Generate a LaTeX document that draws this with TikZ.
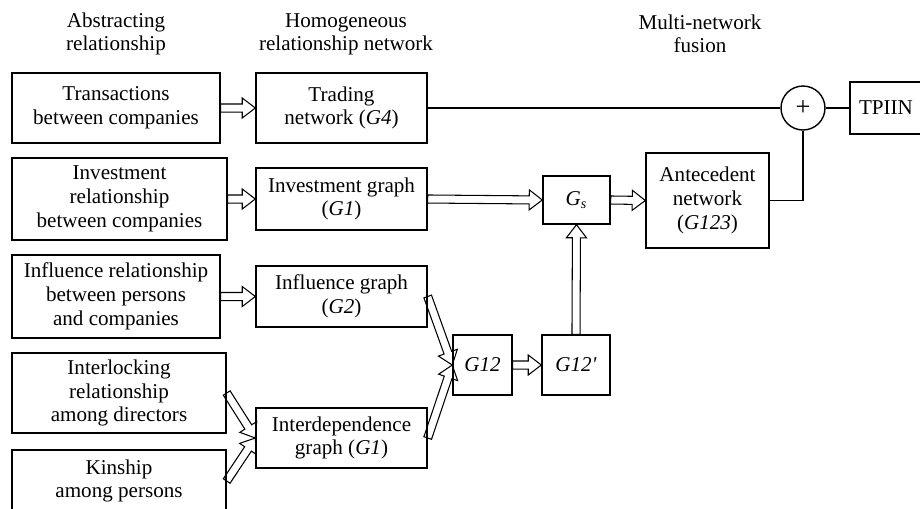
\documentclass[tikz,border=0pt]{standalone}
\usepackage{fontspec}
\setmainfont{Liberation Serif}
\usetikzlibrary{calc,shapes.arrows}
\tikzstyle{box} = [draw,line width=0.8pt,align=center,inner sep=0pt,font=\fontsize{12}{13.5}\selectfont]
\tikzstyle{title} = [align=center,inner sep=0pt,font=\fontsize{12}{13}\selectfont]
\tikzstyle{harrow} = [single arrow,draw,line width=0.6pt,inner sep=0.7mm,outer sep=0pt,single arrow head extend=1.2mm,minimum width=3.5mm,single arrow tip angle=75,anchor=tail]
\tikzstyle{hollow} = [to path={let \p1=(\tikztostart), \p2=(\tikztotarget), \n1={atan2(\y2-\y1,\x2-\x1)}, \n2={veclen(\x2-\x1,\y2-\y1)} in node[harrow,rotate=\n1,minimum height=\n2] at (\p1) {} (\tikztotarget)}]

\begin{document}
\begin{tikzpicture}[x=0.2mm,y=-0.2mm]
          \useasboundingbox (0,0) rectangle (920,508);
          \node[title] at (116,34) (t1) {Abstracting\\relationship};
          \node[title] at (346,34) (t2) {Homogeneous\\relationship network};
          \node[title] at (700,34) (t3) {Multi-network\\fusion};

          \node[box, minimum width=41.6mm, minimum height=14mm] at (116,108) (A1) {Transactions\\between companies};
          \node[box, minimum width=43mm, minimum height=16.4mm] at (119.5,199) (A2) {Investment\\relationship\\between companies};
          \node[box, minimum width=41.6mm, minimum height=16.6mm] at (116,296.5) (A3) {Influence relationship\\between persons\\and companies};
          \node[box, minimum width=42.8mm, minimum height=16mm] at (119,393) (A4) {Interlocking\\relationship\\among directors};
          \node[box, minimum width=42.8mm, minimum height=12.4mm] at (119,481) (A5) {Kinship\\among persons};

          \node[box, minimum width=34.2mm, minimum height=14mm] at (341.5,108) (B1) {Trading\\network (\textit{G4})};
          \node[box, minimum width=34.2mm, minimum height=12.4mm] at (341.5,199) (B2) {Investment graph\\(\textit{G1})};
          \node[box, minimum width=34.2mm, minimum height=12.2mm] at (341.5,296.5) (B3) {Influence graph\\(\textit{G2})};
          \node[box, minimum width=34.2mm, minimum height=12mm] at (341.5,438) (B4) {Interdependence\\graph (\textit{G1})};

          \node[box, minimum width=11.8mm, minimum height=12mm] at (482.5,365) (G12) {\textit{G12}};
          \node[box, minimum width=13.6mm, minimum height=12mm] at (576,365) (G12p) {\textit{G12\textquotesingle}};
          \node[box, minimum width=13.4mm, minimum height=9.6mm] at (576.5,200) (Gs) {\textit{G\textsubscript{s}}};
          \node[box, minimum width=24.6mm, minimum height=19mm] at (707.5,200.5) (ant) {Antecedent\\network\\(\textit{G123})};
          \node[box, circle, minimum size=8.8mm, font=\fontsize{15}{15}\selectfont] at (803,108) (plus) {+};
          \node[box, minimum width=14.4mm, minimum height=10.4mm] at (886,108) (tpiin) {TPIIN};

          \path (A1.east) to[hollow] (B1.west);
          \path (A2.east) to[hollow] (B2.west);
          \path (A3.east) to[hollow] (B3.west);
          \path (A4.east) to[hollow] (B4.west);
          \path (A5.east) to[hollow] (B4.west);
          \path (B3.east) to[hollow] (G12.west);
          \path (B4.east) to[hollow] (G12.west);
          \path (G12.east) to[hollow] (G12p.west);
          \path (G12p.north) to[hollow] (Gs.south);
          \path (B2.east) to[hollow] (Gs.west);
          \path (Gs.east) to[hollow] (ant.west);

          \draw[line width=0.8pt] (B1.east) -- (plus.west);
          \draw[line width=0.8pt] (plus.east) -- (tpiin.west);
          \draw[line width=0.8pt] (ant.east) -| (plus.south);
        \end{tikzpicture}
\end{document}
